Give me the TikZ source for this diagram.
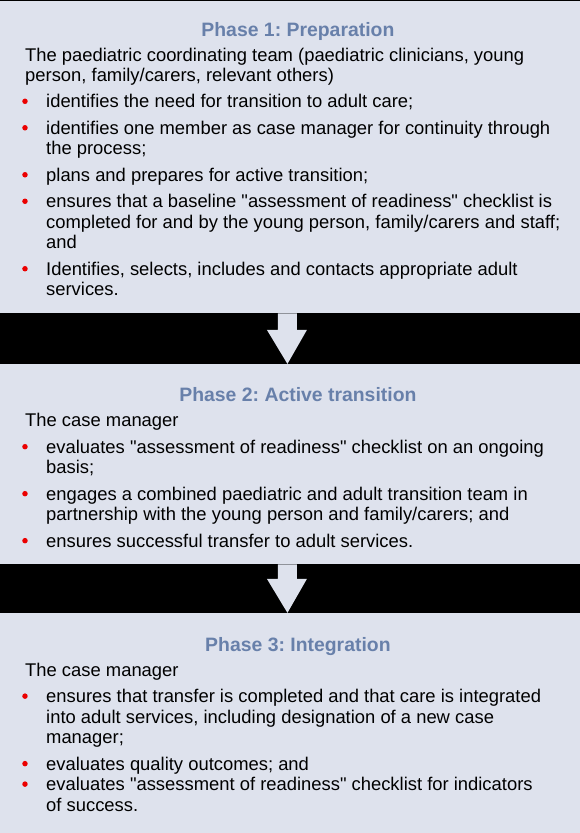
\documentclass[tikz,border=0pt]{standalone}
\usepackage{fontspec}
\usepackage{tikz}
\usetikzlibrary{positioning}
\newfontfamily\arialfont{Liberation Sans}
\frenchspacing
\definecolor{phasefill}{RGB}{222,226,237}
\definecolor{phasetitle}{RGB}{104,128,170}
\definecolor{bulletred}{RGB}{235,0,0}

\begin{document}
\begin{tikzpicture} [
    x = 1pt, y = -1pt,
    phase/.style = { fill = phasefill, minimum width = 580pt, inner sep = 0, anchor = north },
    heading/.style = { anchor = base, inner sep = 0, text = phasetitle, font = \arialfont\bfseries\fontsize{19.4}{22}\selectfont\frenchspacing },
    body/.style = { anchor = base west, inner sep = 0, align = left, font = \arialfont\fontsize{18.4}{20.5}\selectfont\frenchspacing },
    dot/.style = { circle, fill = bulletred, inner sep = 0, minimum size = 5.5pt }
    ]

    \fill[black] (0,0) rectangle (580,833);

    \node[phase, minimum height = 312pt] (box1) at (290,1) {};
    \node[phase, minimum height = 200pt] (box2) at (290,364) {};
    \node[phase, minimum height = 220pt] (box3) at (290,613) {};

    % arrows between the phases
    \foreach \a/\b in {box1/box2, box2/box3}
      \fill[phasefill] ([xshift=-12pt]\a.south) -- ([xshift=7pt]\a.south)
        -- ([xshift=7pt, yshift=34pt]\b.north) -- ([xshift=17pt, yshift=34pt]\b.north)
        -- ([xshift=-2.5pt]\b.north) -- ([xshift=-23pt, yshift=34pt]\b.north)
        -- ([xshift=-12pt, yshift=34pt]\b.north) -- cycle;

    % phase 1 (body nodes sit on the baseline of their last line)
    \node[heading] (t1) at (298,37) {Phase 1: Preparation};
    \node[body] (p1) at (25,82) {The paediatric coordinating team (paediatric clinicians, young\\person, family/carers, relevant others)};
    \node[body] (b11) at (46,108) {identifies the need for transition to adult care;};
    \node[body] (b12) at (46,155) {identifies one member as case manager for continuity through\\the process;};
    \node[body] (b13) at (46,181.5) {plans and prepares for active transition;};
    \node[body] (b14) at (46,249) {ensures that a baseline "assessment of readiness" checklist is\\completed for and by the young person, family/carers and staff;\\and};
    \node[body] (b15) at (46,296) {Identifies, selects, includes and contacts appropriate adult\\services.};

    % phase 2
    \node[heading] (t2) at (298,402) {Phase 2: Active transition};
    \node[body] (p2) at (25,427) {The case manager};
    \node[body] (b21) at (46,474) {evaluates "assessment of readiness" checklist on an ongoing\\basis;};
    \node[body] (b22) at (46,521) {engages a combined paediatric and adult transition team in\\partnership with the young person and family/carers; and};
    \node[body] (b23) at (46,547.5) {ensures successful transfer to adult services.};

    % phase 3
    \node[heading] (t3) at (298,652) {Phase 3: Integration};
    \node[body] (p3) at (25,676.5) {The case manager};
    \node[body] (b31) at (46,744) {ensures that transfer is completed and that care is integrated\\into adult services, including designation of a new case\\manager;};
    \node[body] (b32) at (46,770.5) {evaluates quality outcomes; and};
    \node[body] (b33) at (46,811.5) {evaluates "assessment of readiness" checklist for indicators\\of success.};

    % red bullets, level with the first line of each item
    \foreach \n/\k in {b11/0,b12/1,b13/0,b14/2,b15/1,b21/1,b22/1,b23/0,b31/2,b32/0,b33/1}
      \path (\n.base west) ++(-21,-6.7-20.5*\k) node[dot] {};
  \end{tikzpicture}
\end{document}
